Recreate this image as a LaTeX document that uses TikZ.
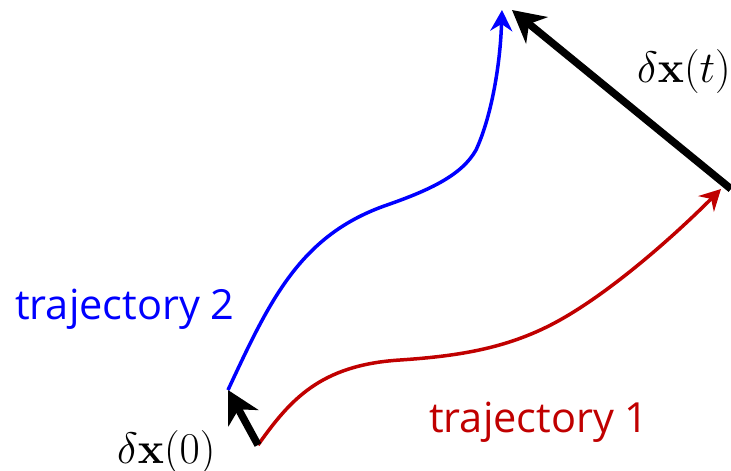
\RequirePackage{fix-cm}
\documentclass[tikz,border=0pt]{standalone}
\usepackage{amsmath}
\usepackage[no-math]{fontspec}
\setmainfont{Open Sans}
\usepackage{xcolor}
\usepackage{tikz}
\usetikzlibrary{arrows.meta, positioning}
\definecolor{trajred}{HTML}{C00000}
\definecolor{trajblue}{HTML}{0000FF}

\begin{document}
\begin{tikzpicture}[x=1pt, y=-1pt,
  traj/.style={line width=3.5pt, -{Stealth[length=21pt, width=22pt, inset=7pt]}},
  sep/.style={line width=7.5pt, -{Stealth[length=32pt, width=34pt, inset=10pt]}},
  label/.style={anchor=base west, inner sep=0pt, font=\fontsize{41.5}{48}\selectfont},
  delta/.style={anchor=base west, inner sep=0pt, font=\fontsize{44}{50}\selectfont},
]
\useasboundingbox (0,0) rectangle (731,471);

% End points
\coordinate (o1) at (258,445);
\coordinate (o2) at (228,390);
\coordinate (e1) at (721,189);
\coordinate (e2) at (502,10);
\coordinate (s1) at (731,189);
\coordinate (s2) at (512,10);

% Trajectories
\draw[traj, trajred] (o1) .. controls (290,400) and (320,365) .. (400,360)
  .. controls (460,356) and (510,348) .. (560,320)
  .. controls (610,292) and (670,240) .. (e1);
\draw[traj, trajblue] (o2) .. controls (270,300) and (300,235) .. (387,205)
  .. controls (430,190) and (462,175) .. (476,150)
  .. controls (490,120) and (500,70) .. (e2);

% Separations
\draw[sep] (o1) -- (o2);
\draw[sep] (s1) -- (s2);

% Labels
\node[label, text=trajblue] (l2) at (15,319) {trajectory 2};
\node[label, text=trajred]  (l1) at (429,432) {trajectory 1};
\node[delta] (d0) at (117,463) {$\delta\mathbf{x}(0)$};
\node[delta] (dt) at (637,82) {$\delta\mathbf{x}(t)$};
\end{tikzpicture}
\end{document}
